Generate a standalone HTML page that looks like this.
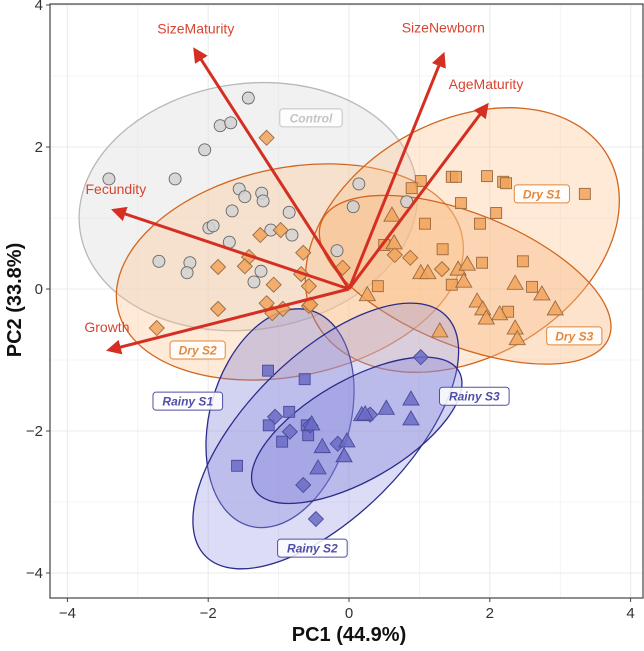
<!DOCTYPE html>
<html><head><meta charset="utf-8"><style>
html,body{margin:0;padding:0;background:#fff;}
svg{display:block;font-family:"Liberation Sans",Arial,sans-serif;}
</style></head><body>
<svg id="chart" width="644" height="651" viewBox="0 0 644 651" xmlns="http://www.w3.org/2000/svg">
<defs>
<marker id="ah" viewBox="0 0 10 10" refX="8" refY="5" markerWidth="5" markerHeight="5" orient="auto-start-reverse" markerUnits="strokeWidth">
<path d="M0,0 L10,5 L0,10 z" fill="#d42f22"/></marker>
</defs>
<g id="grid"></g>
<g id="ell"></g>
<g id="pts"></g>
<g id="arr"></g>
<g id="lab"></g>
<g id="axes"></g>
<text x="349" y="641" text-anchor="middle" font-size="20" font-weight="bold" fill="#111">PC1 (44.9%)</text>
<text transform="translate(21,300) rotate(-90)" text-anchor="middle" font-size="20" font-weight="bold" fill="#111">PC2 (33.8%)</text>
</svg>
<script>
const xTicks=[-4,-2,0,2,4];
const yTicks=[-4,-2,0,2,4];
const tickLabels=["\u22124","\u22122","0","2","4"];
const ctrlX=[-1.43,-1.83,-1.68,-2.05,-3.41,-2.47,-1.56,-1.48,-1.24,-1.22,-1.66,-0.85,-1.99,-1.93,-1.11,-0.81,-1.70,-2.70,-2.26,-2.30,-1.25,-1.35,0.14,0.06,-0.17,0.82];
const ctrlY=[2.69,2.30,2.34,1.96,1.55,1.55,1.41,1.30,1.35,1.24,1.10,1.08,0.86,0.89,0.83,0.76,0.66,0.39,0.37,0.23,0.25,0.10,1.48,1.16,0.54,1.23];
const dryS2X=[-1.17,-1.26,-0.97,-0.65,-1.42,-1.86,-1.48,-0.68,-0.57,-0.09,-1.07,-1.86,-1.17,-1.09,-0.94,-0.57,-2.73,0.65,0.87,1.32,-0.55];
const dryS2Y=[2.13,0.76,0.83,0.51,0.45,0.31,0.32,0.21,0.04,0.30,0.06,-0.28,-0.20,-0.34,-0.28,-0.24,-0.55,0.48,0.44,0.28,-0.22];
const dryS1X=[1.02,0.89,1.46,1.52,1.96,2.19,2.23,3.35,1.59,2.09,1.86,1.08,1.33,1.89,2.47,0.41,1.46,2.60,2.26,0.50];
const dryS1Y=[1.52,1.42,1.58,1.58,1.59,1.51,1.49,1.34,1.21,1.07,0.92,0.92,0.56,0.37,0.39,0.04,0.06,0.03,-0.32,0.62];
const dryS3X=[0.61,0.64,1.02,1.12,1.55,1.68,1.63,2.36,2.74,2.93,1.82,1.90,1.95,2.14,2.36,2.39,0.26,1.29];
const dryS3Y=[1.04,0.65,0.23,0.23,0.28,0.35,0.11,0.08,-0.07,-0.28,-0.17,-0.28,-0.41,-0.35,-0.55,-0.70,-0.08,-0.59];
const rainyS1X=[-1.15,-0.63,-0.85,-1.14,-0.95,-1.59,-0.58,-0.60];
const rainyS1Y=[-1.15,-1.27,-1.73,-1.92,-2.15,-2.49,-2.06,-1.92];
const rainyS2X=[-1.05,-0.84,-0.55,-0.16,-0.65,-0.47,1.02,0.30];
const rainyS2Y=[-1.80,-2.01,-1.92,-2.18,-2.76,-3.24,-0.96,-1.77];
const rainyS3X=[-0.53,-0.38,-0.03,-0.07,-0.44,0.18,0.23,0.53,0.88,0.88];
const rainyS3Y=[-1.90,-2.22,-2.14,-2.35,-2.52,-1.77,-1.76,-1.68,-1.55,-1.83];
const arrowNames=["SizeMaturity","SizeNewborn","AgeMaturity","Fecundity","Growth"];
const arrowX=[-2.19,1.34,1.96,-3.34,-3.41];
const arrowY=[3.37,3.30,2.59,1.11,-0.86];

const L=50,R=643,T=4,B=598;
const xs=v=>349+v*70.4;
const ys=v=>289-v*71;
const NS="http://www.w3.org/2000/svg";
function mk(tag,attrs,parent){const e=document.createElementNS(NS,tag);for(const k in attrs)e.setAttribute(k,attrs[k]);parent.appendChild(e);return e;}
const g=document.getElementById('grid');
mk('rect',{x:L,y:T,width:R-L,height:B-T,fill:'#fff'},g);
for(let v=-5;v<=5;v++){
  const w=(v%2===0)?1.1:0.6;
  const x=xs(v); if(x>L&&x<R){const l=mk('line',{x1:x,x2:x,y1:T,y2:B,stroke:'#ebebeb','stroke-width':w},g);
  
  }
  const y=ys(v); if(y>T&&y<B){const l=mk('line',{x1:L,x2:R,y1:y,y2:y,stroke:'#ebebeb','stroke-width':w},g);
  
  }
}
// ellipses: data-unit centers, px semi-axes, rotation
const ellGroups=["Control","Dry S2","Dry S1","Dry S3","Rainy S1","Rainy S2","Rainy S3"];
const ellCX=[-1.43,-0.84,1.61,1.65,-0.98,-0.33,0.11];
const ellCY=[1.16,0.24,0.69,0.13,-1.82,-2.07,-1.99];
const ellStyle=[['#e4e4e4',0.5,'#b8b8b8',-8,170,123],['#fbc38c',0.35,'#d2661e',-12,176,104],['#fbc38c',0.35,'#d2661e',-30,168,118],['#fbb980',0.4,'#d2661e',22,155,66],['#7f7fd8',0.35,'#2b2b8c',16,70,112],['#9a9ae6',0.35,'#2b2b8c',-45,170,80],['#7f7fd8',0.35,'#2b2b8c',-30,118,50]];
const eg=document.getElementById('ell');
ellGroups.forEach((n,i)=>{const s=ellStyle[i];const cx=xs(ellCX[i]),cy=ys(ellCY[i]);
 const e=mk('ellipse',{cx:cx,cy:cy,rx:s[4],ry:s[5],transform:`rotate(${s[3]} ${cx} ${cy})`,fill:s[0],'fill-opacity':s[1],stroke:s[2],'stroke-width':1.3},eg);
 
 });
const pg=document.getElementById('pts');
function shape(kind,x,y,fill,stroke,name){let e;
 if(kind==='c')e=mk('circle',{cx:x,cy:y,r:6},pg);
 else if(kind==='s')e=mk('rect',{x:x-5.5,y:y-5.5,width:11,height:11},pg);
 else if(kind==='d')e=mk('path',{d:`M${x},${y-7.5}L${x+7.5},${y}L${x},${y+7.5}L${x-7.5},${y}Z`},pg);
 else e=mk('path',{d:`M${x},${y-8}L${x+8},${y+6}L${x-8},${y+6}Z`},pg);
 e.setAttribute('fill',fill);e.setAttribute('fill-opacity','0.85');e.setAttribute('stroke',stroke);e.setAttribute('stroke-width','0.9');
 
 }
ctrlX.forEach((v,i)=>shape('c',xs(v),ys(ctrlY[i]),'#d2d2d2','#666','point-control'));
dryS2X.forEach((v,i)=>shape('d',xs(v),ys(dryS2Y[i]),'#f2a35a','#9a6a40','point-dry-s2'));
dryS1X.forEach((v,i)=>shape('s',xs(v),ys(dryS1Y[i]),'#f2a35a','#9a6a40','point-dry-s1'));
dryS3X.forEach((v,i)=>shape('t',xs(v),ys(dryS3Y[i]),'#f2a35a','#9a6a40','point-dry-s3'));
rainyS1X.forEach((v,i)=>shape('s',xs(v),ys(rainyS1Y[i]),'#6b6bc6','#4a4a9a','point-rainy-s1'));
rainyS2X.forEach((v,i)=>shape('d',xs(v),ys(rainyS2Y[i]),'#6b6bc6','#4a4a9a','point-rainy-s2'));
rainyS3X.forEach((v,i)=>shape('t',xs(v),ys(rainyS3Y[i]),'#6b6bc6','#4a4a9a','point-rainy-s3'));
const ag=document.getElementById('arr');
const labDX=[1,0,-1,2,-2],labDY=[-16,-22,-16,-16,-18];
arrowNames.forEach((n,i)=>{const x=xs(arrowX[i]),y=ys(arrowY[i]);
 const l=mk('line',{x1:xs(0),y1:ys(0),x2:x,y2:y,stroke:'#d42f22','stroke-width':3,'marker-end':'url(#ah)'},ag);
 
 
 const t=mk('text',{x:x+labDX[i],y:y+labDY[i],'text-anchor':'middle','font-size':14,fill:'#d9442f'},ag);t.textContent=n;
 
 });
const lg=document.getElementById('lab');
const grpLabels=["Control","Dry S1","Dry S3","Dry S2","Rainy S1","Rainy S3","Rainy S2"];
const grpLX=[-0.54,2.74,3.20,-2.15,-2.29,1.78,-0.52];
const grpLY=[2.41,1.34,-0.66,-0.86,-1.58,-1.51,-3.65];
const grpCol=['#c4c4c4','#e0893f','#e0893f','#e0893f','#4f4fa8','#4f4fa8','#4f4fa8'];
grpLabels.forEach((n,i)=>{const x=xs(grpLX[i]),y=ys(grpLY[i]);const w=n.length*7.2+12;
 const r=mk('rect',{x:x-w/2,y:y-9,width:w,height:18,rx:3,fill:'#fff','fill-opacity':0.85,stroke:grpCol[i],'stroke-width':1},lg);
 
 
 const t=mk('text',{x:x,y:y+4.5,'text-anchor':'middle','font-size':12,'font-weight':'bold','font-style':'italic',fill:grpCol[i]},lg);t.textContent=n;
 
 });
const ax=document.getElementById('axes');
mk('rect',{x:L,y:T,width:R-L,height:B-T,fill:'none',stroke:'#444','stroke-width':1.2},ax);
xTicks.forEach((v,i)=>{const x=xs(v);mk('line',{x1:x,x2:x,y1:B,y2:B+4,stroke:'#444'},ax);
 const t=mk('text',{x:x,y:B+20,'text-anchor':'middle','font-size':15,fill:'#333'},ax);t.textContent=tickLabels[i];
 
 });
yTicks.forEach((v,i)=>{const y=ys(v);mk('line',{x1:L-4,x2:L,y1:y,y2:y,stroke:'#444'},ax);
 const t=mk('text',{x:L-7,y:y+5,'text-anchor':'end','font-size':15,fill:'#333'},ax);t.textContent=tickLabels[i];
 
 });
</script>
</body></html>
